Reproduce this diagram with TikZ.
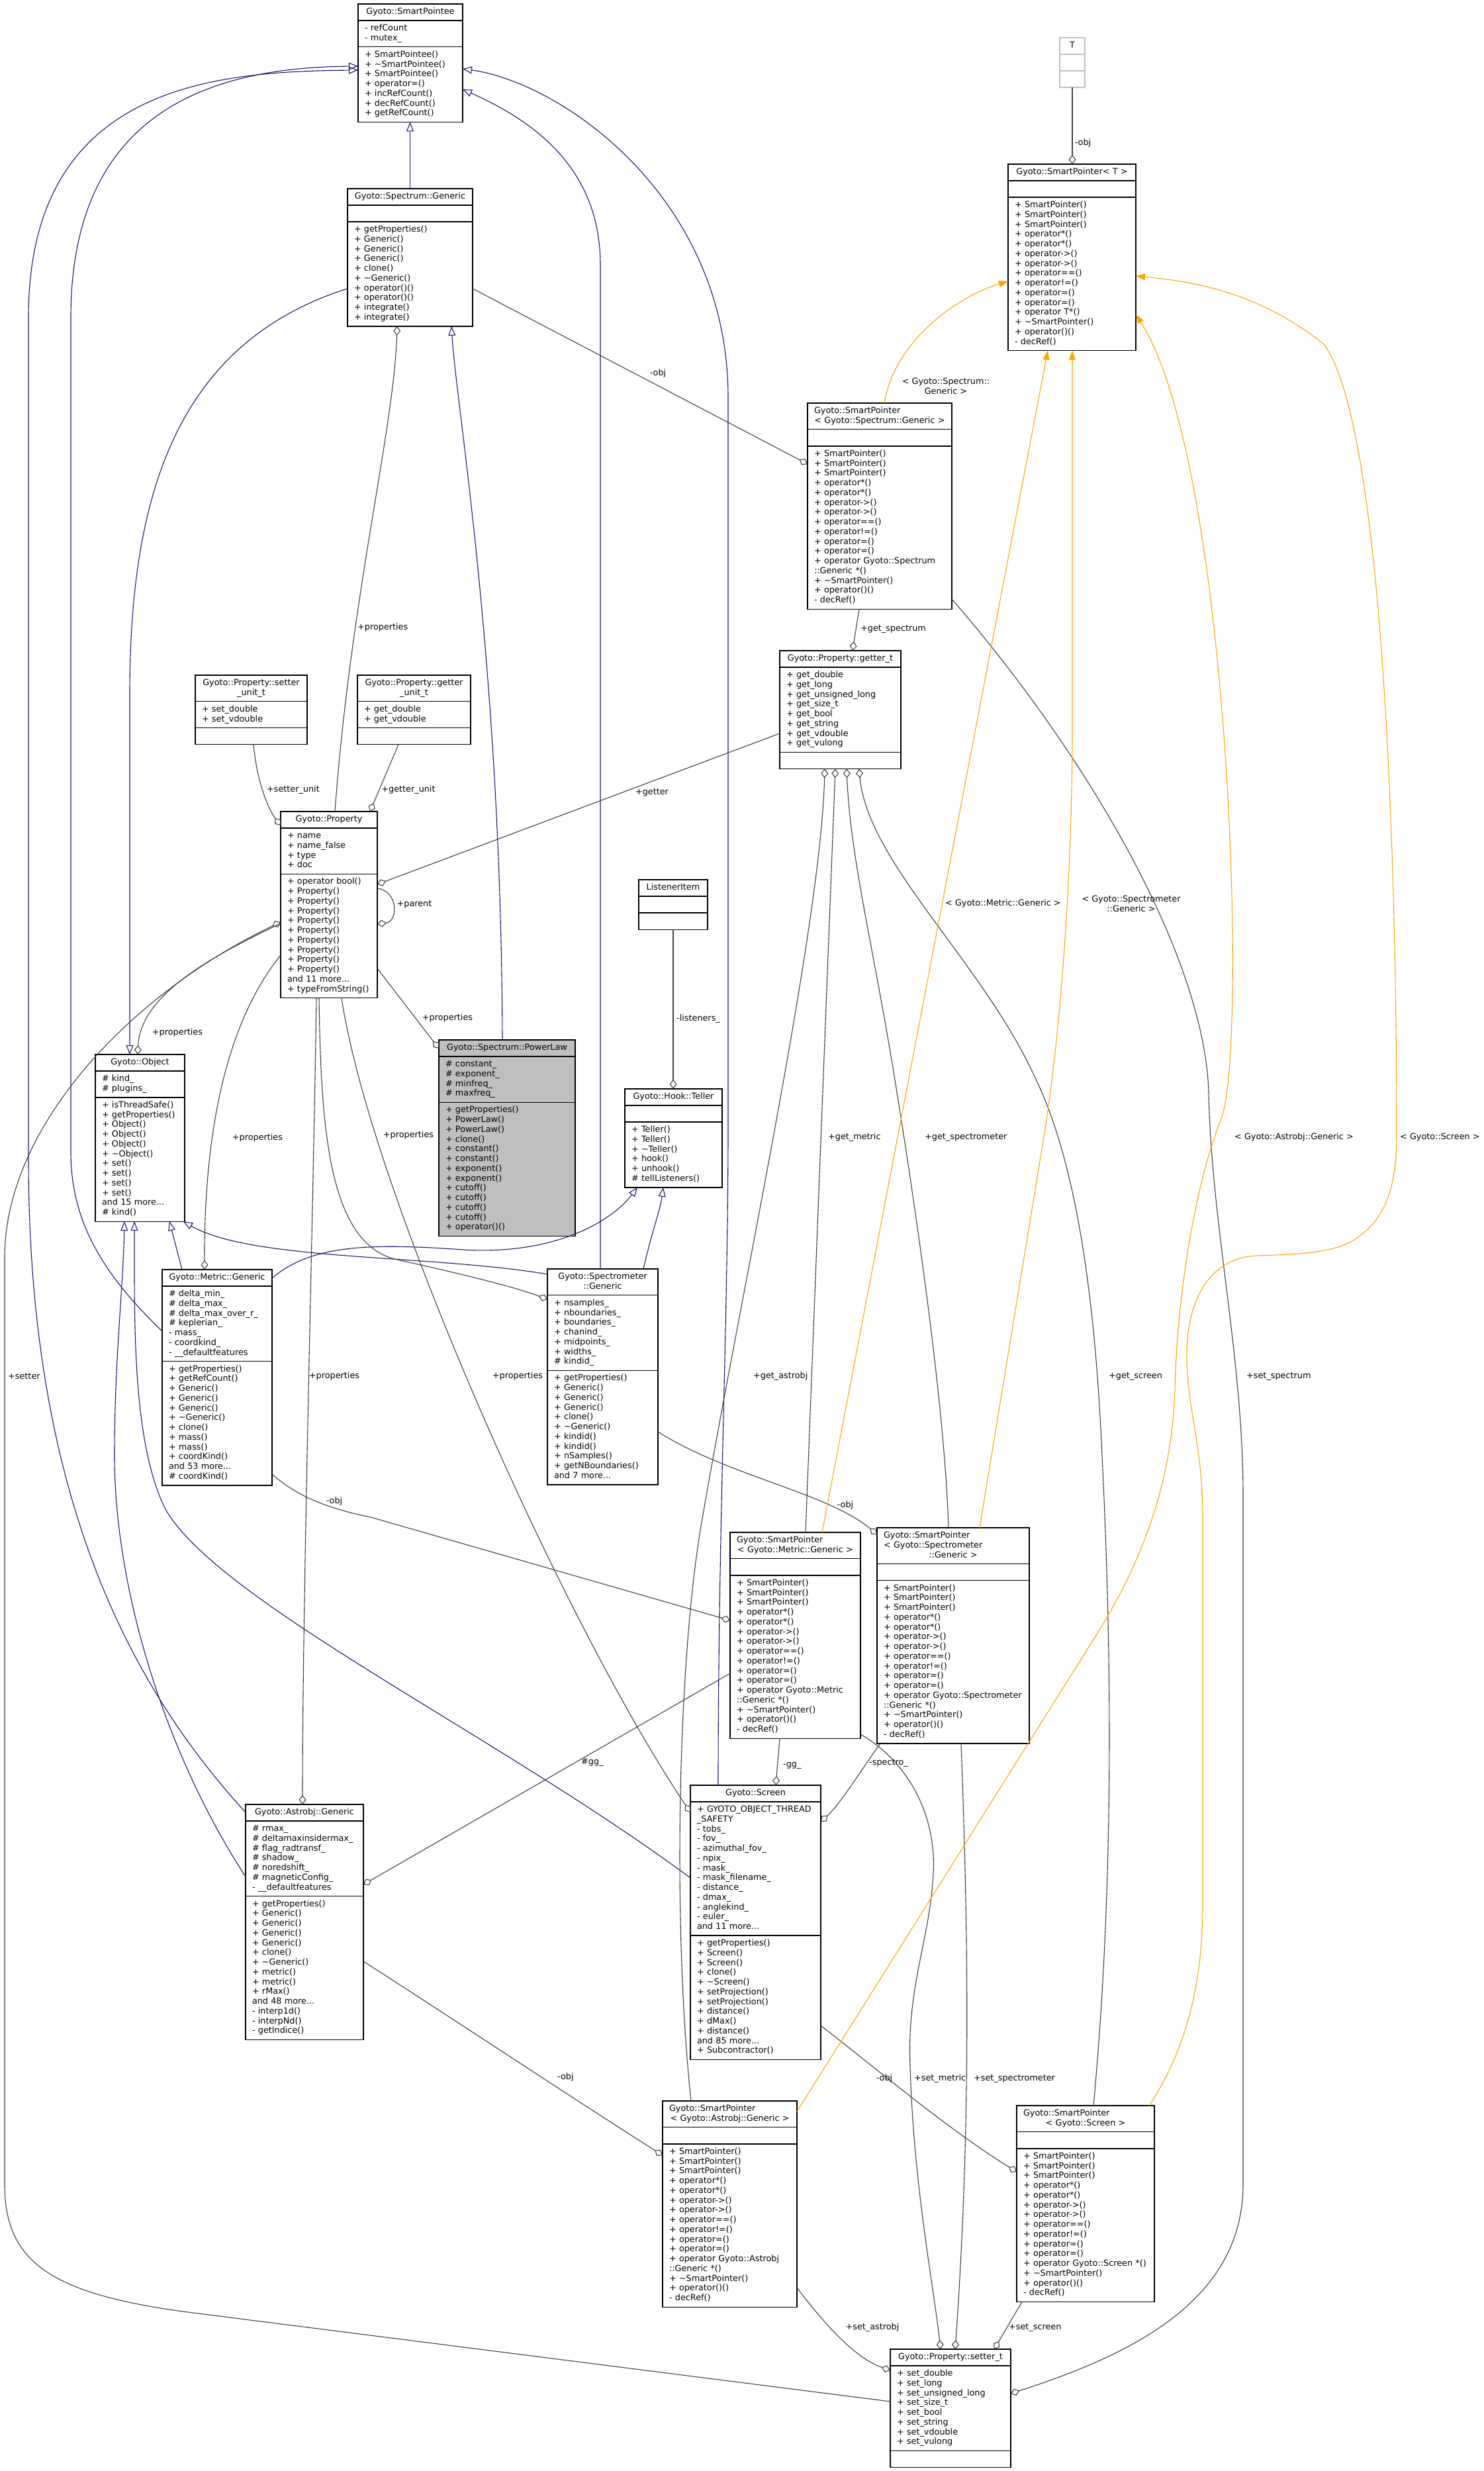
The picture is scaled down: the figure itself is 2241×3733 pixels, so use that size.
\documentclass[tikz,border=0pt]{standalone}
\usepackage{fontspec}
\setmainfont{DejaVu Sans}
\usetikzlibrary{arrows.meta,fit}
\definecolor{inhc}{HTML}{191970}
\definecolor{aggc}{HTML}{404040}
\definecolor{tplc}{HTML}{FFA500}
\definecolor{greyst}{HTML}{BFBFBF}
\newcommand\ufont{\fontsize{12.8pt}{14.75pt}\selectfont}
\newcommand\tld{\textasciitilde}
\newcommand\uclass[8][]{%
  \pgfmathsetmacro\ucw{#5-20}%
  \node[ubox,#1,text width=\ucw pt,align=center,anchor=north west] (#2-t) at (#3,#4) {\strut#6\strut};
  \node[ubox,#1,text width=\ucw pt,align=left,anchor=north west] (#2-a) at (#2-t.south west) {\strut#7\strut};
  \node[ubox,#1,text width=\ucw pt,align=left,anchor=north west] (#2-m) at (#2-a.south west) {\strut#8\strut};
  \node[fit=(#2-t)(#2-m),inner sep=0pt,outer sep=0pt] (#2) {};
}
\begin{document}
\begin{tikzpicture}[x=1pt,y=-1pt,
  ubox/.style={draw=black,fill=white,line width=1.3pt,inner xsep=10pt,inner ysep=5.15pt,outer sep=0pt,font=\ufont},
  inh/.style={draw=inhc,line width=1.1pt,-{Triangle[open,length=14pt,width=11pt]}},
  agg/.style={draw=aggc,line width=1.1pt,-{Diamond[open,length=14pt,width=11pt]}},
  tpl/.style={draw=tplc,line width=1.1pt,-{Triangle[length=14pt,width=10pt]}},
  elab/.style={font=\ufont,inner sep=0pt,align=center}]
\fill[white] (0,0) rectangle (2241,3733);
\useasboundingbox (0,0) rectangle (2241,3733);

% ---------------- classes ----------------
\uclass{SPE}{541}{6}{158}{Gyoto::SmartPointee}{- refCount\\- mutex\_}{+ SmartPointee()\\+ \tld SmartPointee()\\+ SmartPointee()\\+ operator=()\\+ incRefCount()\\+ decRefCount()\\+ getRefCount()}

\uclass{SG}{525}{285}{189}{Gyoto::Spectrum::Generic}{}{+ getProperties()\\+ Generic()\\+ Generic()\\+ Generic()\\+ clone()\\+ \tld Generic()\\+ operator()()\\+ operator()()\\+ integrate()\\+ integrate()}

\uclass[draw=greyst]{T}{1601}{57}{38}{T}{}{}

\uclass{SPT}{1523}{248}{193}{Gyoto::SmartPointer< T >}{}{+ SmartPointer()\\+ SmartPointer()\\+ SmartPointer()\\+ operator*()\\+ operator*()\\+ operator->()\\+ operator->()\\+ operator==()\\+ operator!=()\\+ operator=()\\+ operator=()\\+ operator T*()\\+ \tld SmartPointer()\\+ operator()()\\- decRef()}

\uclass{SPS}{1220}{609}{218}{\makebox[\linewidth][l]{Gyoto::SmartPointer}\\< Gyoto::Spectrum::Generic >}{}{+ SmartPointer()\\+ SmartPointer()\\+ SmartPointer()\\+ operator*()\\+ operator*()\\+ operator->()\\+ operator->()\\+ operator==()\\+ operator!=()\\+ operator=()\\+ operator=()\\+ operator Gyoto::Spectrum\\::Generic *()\\+ \tld SmartPointer()\\+ operator()()\\- decRef()}

\uclass{GT}{1178}{983}{183}{Gyoto::Property::getter\_t}{+ get\_double\\+ get\_long\\+ get\_unsigned\_long\\+ get\_size\_t\\+ get\_bool\\+ get\_string\\+ get\_vdouble\\+ get\_vulong}{}

\uclass{SU}{295}{1020}{169}{Gyoto::Property::setter\\\_unit\_t}{+ set\_double\\+ set\_vdouble}{}

\uclass{GU}{540}{1020}{171}{Gyoto::Property::getter\\\_unit\_t}{+ get\_double\\+ get\_vdouble}{}

\uclass{PR}{424}{1226}{146}{Gyoto::Property}{+ name\\+ name\_false\\+ type\\+ doc}{+ operator bool()\\+ Property()\\+ Property()\\+ Property()\\+ Property()\\+ Property()\\+ Property()\\+ Property()\\+ Property()\\+ Property()\\and 11 more...\\+ typeFromString()}

\uclass[fill=greyst]{PL}{663}{1571}{206}{Gyoto::Spectrum::PowerLaw}{\# constant\_\\\# exponent\_\\\# minfreq\_\\\# maxfreq\_}{+ getProperties()\\+ PowerLaw()\\+ PowerLaw()\\+ clone()\\+ constant()\\+ constant()\\+ exponent()\\+ exponent()\\+ cutoff()\\+ cutoff()\\+ cutoff()\\+ cutoff()\\+ operator()()}

\uclass{LI}{965}{1329}{104}{ListenerItem}{}{}

\uclass{HT}{944}{1645}{147}{Gyoto::Hook::Teller}{}{+ Teller()\\+ Teller()\\+ \tld Teller()\\+ hook()\\+ unhook()\\\# tellListeners()}

\uclass{OB}{144}{1593}{135}{Gyoto::Object}{\# kind\_\\\# plugins\_}{+ isThreadSafe()\\+ getProperties()\\+ Object()\\+ Object()\\+ Object()\\+ \tld Object()\\+ set()\\+ set()\\+ set()\\+ set()\\and 15 more...\\\# kind()}

\uclass{MG}{245}{1918}{166}{Gyoto::Metric::Generic}{\# delta\_min\_\\\# delta\_max\_\\\# delta\_max\_over\_r\_\\\# keplerian\_\\- mass\_\\- coordkind\_\\- \_\_defaultfeatures}{+ getProperties()\\+ getRefCount()\\+ Generic()\\+ Generic()\\+ Generic()\\+ \tld Generic()\\+ clone()\\+ mass()\\+ mass()\\+ coordKind()\\and 53 more...\\\# coordKind()}

\uclass{SMG}{827}{1917}{167}{Gyoto::Spectrometer\\::Generic}{+ nsamples\_\\+ nboundaries\_\\+ boundaries\_\\+ chanind\_\\+ midpoints\_\\+ widths\_\\\# kindid\_}{+ getProperties()\\+ Generic()\\+ Generic()\\+ Generic()\\+ clone()\\+ \tld Generic()\\+ kindid()\\+ kindid()\\+ nSamples()\\+ getNBoundaries()\\and 7 more...}

\uclass{SPM}{1103}{2315}{197}{\makebox[\linewidth][l]{Gyoto::SmartPointer}\\< Gyoto::Metric::Generic >}{}{+ SmartPointer()\\+ SmartPointer()\\+ SmartPointer()\\+ operator*()\\+ operator*()\\+ operator->()\\+ operator->()\\+ operator==()\\+ operator!=()\\+ operator=()\\+ operator=()\\+ operator Gyoto::Metric\\::Generic *()\\+ \tld SmartPointer()\\+ operator()()\\- decRef()}

\uclass{SPSM}{1325}{2308}{230}{\makebox[\linewidth][l]{Gyoto::SmartPointer}\\\makebox[\linewidth][l]{< Gyoto::Spectrometer}\\::Generic >}{}{+ SmartPointer()\\+ SmartPointer()\\+ SmartPointer()\\+ operator*()\\+ operator*()\\+ operator->()\\+ operator->()\\+ operator==()\\+ operator!=()\\+ operator=()\\+ operator=()\\+ operator Gyoto::Spectrometer\\::Generic *()\\+ \tld SmartPointer()\\+ operator()()\\- decRef()}

\uclass{SC}{1043}{2697}{197}{Gyoto::Screen}{+ GYOTO\_OBJECT\_THREAD\\\_SAFETY\\- tobs\_\\- fov\_\\- azimuthal\_fov\_\\- npix\_\\- mask\_\\- mask\_filename\_\\- distance\_\\- dmax\_\\- anglekind\_\\- euler\_\\and 11 more...}{+ getProperties()\\+ Screen()\\+ Screen()\\+ clone()\\+ \tld Screen()\\+ setProjection()\\+ setProjection()\\+ distance()\\+ dMax()\\+ distance()\\and 85 more...\\+ Subcontractor()}

\uclass{AG}{371}{2726}{178}{Gyoto::Astrobj::Generic}{\# rmax\_\\\# deltamaxinsidermax\_\\\# flag\_radtransf\_\\\# shadow\_\\\# noredshift\_\\\# magneticConfig\_\\- \_\_defaultfeatures}{+ getProperties()\\+ Generic()\\+ Generic()\\+ Generic()\\+ Generic()\\+ clone()\\+ \tld Generic()\\+ metric()\\+ metric()\\+ rMax()\\and 48 more...\\- interp1d()\\- interpNd()\\- getIndice()}

\uclass{SPA}{1001}{3174}{203}{\makebox[\linewidth][l]{Gyoto::SmartPointer}\\< Gyoto::Astrobj::Generic >}{}{+ SmartPointer()\\+ SmartPointer()\\+ SmartPointer()\\+ operator*()\\+ operator*()\\+ operator->()\\+ operator->()\\+ operator==()\\+ operator!=()\\+ operator=()\\+ operator=()\\+ operator Gyoto::Astrobj\\::Generic *()\\+ \tld SmartPointer()\\+ operator()()\\- decRef()}

\uclass{SPSC}{1536}{3181}{208}{\makebox[\linewidth][l]{Gyoto::SmartPointer}\\< Gyoto::Screen >}{}{+ SmartPointer()\\+ SmartPointer()\\+ SmartPointer()\\+ operator*()\\+ operator*()\\+ operator->()\\+ operator->()\\+ operator==()\\+ operator!=()\\+ operator=()\\+ operator=()\\+ operator Gyoto::Screen *()\\+ \tld SmartPointer()\\+ operator()()\\- decRef()}

\uclass{ST}{1345}{3549}{182}{Gyoto::Property::setter\_t}{+ set\_double\\+ set\_long\\+ set\_unsigned\_long\\+ set\_size\_t\\+ set\_bool\\+ set\_string\\+ set\_vdouble\\+ set\_vulong}{}

% ---------------- inheritance ----------------
\draw[inh] (SG.north) -- (SG.north |- SPE.south);
\draw[inh] (PL.north -| 759,0) .. controls (757,1000) and (690,620) .. (SG.south -| 682,0);
\draw[inh] (SG.west |- 0,436) .. controls (260,520) and (196,760) .. (196,1050) -- (OB.north -| 196,0);
\draw[inh] (MG.west |- 0,2011) .. controls (150,1920) and (107,1840) .. (107,1740) -- (107,480) .. controls (107,160) and (330,102) .. (SPE.west |- 0,100);
\draw[inh] (AG.west |- 0,2738) .. controls (190,2540) and (43,2250) .. (43,1750) -- (43,480) .. controls (43,130) and (320,108) .. (SPE.west |- 0,106);
\draw[inh] (MG.north -| 275,0) -- (OB.south -| 256,0);
\draw[inh] (AG.west |- 0,2835) .. controls (250,2650) and (173,2400) .. (173,2200) .. controls (173,2050) and (186,1950) .. (OB.south -| 188,0);
\draw[inh] (SC.west |- 0,2837) .. controls (750,2620) and (330,2420) .. (250,2280) .. controls (200,2180) and (203,2000) .. (OB.south -| 203,0);
\draw[inh] (SMG.west |- 0,1925) .. controls (650,1895) and (380,1905) .. (OB.south -| 277,0);
\draw[inh] (MG.east |- 0,1931) .. controls (470,1880) and (560,1878) .. (700,1888) .. controls (830,1896) and (920,1850) .. (HT.south -| 963,0);
\draw[inh] (SMG.north -| 972,0) .. controls (985,1860) and (997,1830) .. (HT.south -| 1002,0);
\draw[inh] (SMG.north -| 907,0) -- (907,400) .. controls (907,250) and (800,180) .. (SPE.east |- 0,135);
\draw[inh] (SC.north -| 1085,0) .. controls (1085,2300) and (1100,2000) .. (1100,1700) -- (1100,600) .. controls (1100,300) and (850,125) .. (SPE.east |- 0,104);

% ---------------- usage (aggregation) ----------------
\draw[agg] (T.south) -- (SPT.north -| T.south);
\draw[agg] (SG.east |- 0,436) -- (SPS.west |- 0,701);
\draw[agg] (SPS.south -| 1298,0) -- (GT.north -| 1288,0);
\draw[agg] (SU.south -| 383,0) .. controls (388,1180) and (405,1222) .. (PR.west |- 0,1247);
\draw[agg] (GU.south -| 602,0) -- (PR.north -| 559,0);
\draw[agg] (GT.west |- 0,1108) -- (PR.east |- 0,1336);
\draw[agg] (PR.east |- 0,1342) .. controls (602,1346) and (602,1392) .. (PR.east |- 0,1396);
\draw[agg] (ST.west |- 0,3628) -- (300,3495) .. controls (80,3468) and (7,3420) .. (7,3300) -- (7,1900) .. controls (7,1700) and (200,1500) .. (PR.west |- 0,1393);
\draw[agg] (PR.north -| 506,0) .. controls (530,900) and (595,650) .. (SG.south -| 600,0);
\draw[agg] (PR.west |- 0,1395) .. controls (330,1440) and (212,1500) .. (OB.north -| 208,0);
\draw[agg] (PR.west |- 0,1443) .. controls (370,1510) and (308,1640) .. (MG.north -| 309,0);
\draw[agg] (PR.east |- 0,1463) -- (PL.west |- 0,1584);
\draw[agg] (PR.south -| 482,0) .. controls (485,1700) and (495,1880) .. (600,1903) .. controls (700,1925) and (780,1945) .. (SMG.west |- 0,1963);
\draw[agg] (PR.south -| 478,0) .. controls (474,1800) and (457,2400) .. (AG.north -| 457,0);
\draw[agg] (PR.south -| 516,0) .. controls (560,1800) and (850,2450) .. (SC.west |- 0,2738);
\draw[agg] (LI.south) -- (HT.north -| LI.south);
\draw[agg] (MG.east |- 0,2227) .. controls (450,2262) and (500,2280) .. (560,2292) -- (SPM.west |- 0,2448);
\draw[agg] (SMG.east |- 0,2163) .. controls (1100,2230) and (1250,2255) .. (SPSM.west |- 0,2318);
\draw[agg] (SPM.south -| 1178,0) -- (SC.north -| 1172,0);
\draw[agg] (SPSM.south -| 1330,0) .. controls (1300,2675) and (1270,2725) .. (SC.east |- 0,2752);
\draw[agg] (SPM.west |- 0,2528) -- (AG.east |- 0,2847);
\draw[agg] (AG.east |- 0,2963) .. controls (700,3060) and (850,3160) .. (SPA.west |- 0,3256);
\draw[agg] (SC.east |- 0,3060) .. controls (1330,3130) and (1430,3215) .. (SPSC.west |- 0,3281);
\draw[agg] (SPA.east |- 0,3456) .. controls (1260,3530) and (1300,3565) .. (ST.west |- 0,3581);
\draw[agg] (SPM.east |- 0,2620) .. controls (1370,2660) and (1415,2740) .. (1410,2830) .. controls (1405,2930) and (1370,3000) .. (1375,3120) .. controls (1380,3300) and (1410,3450) .. (ST.north -| 1421,0);
\draw[agg] (SPSM.south -| 1452,0) .. controls (1462,2900) and (1468,3200) .. (ST.north -| 1443,0);
\draw[agg] (SPSC.south -| 1544,0) -- (ST.north -| 1502,0);
\draw[agg] (SPS.east |- 0,905) .. controls (1650,1150) and (1820,1450) .. (1826,1650) .. controls (1830,1850) and (1878,2050) .. (1878,2260) -- (1878,3300) .. controls (1878,3480) and (1700,3560) .. (ST.east |- 0,3616);
\draw[agg] (SPA.north -| 1044,0) .. controls (1015,2900) and (1025,2500) .. (1060,2300) .. controls (1120,1950) and (1240,1400) .. (GT.south -| 1246,0);
\draw[agg] (SPM.north -| 1217,0) -- (GT.south -| 1262,0);
\draw[agg] (SPSM.north -| 1433,0) .. controls (1428,2150) and (1395,1900) .. (1355,1650) .. controls (1320,1430) and (1285,1300) .. (GT.south -| 1279,0);
\draw[agg] (SPSC.north -| 1652,0) .. controls (1683,2850) and (1680,2500) .. (1665,2200) .. controls (1650,1850) and (1600,1700) .. (1560,1620) .. controls (1480,1450) and (1310,1300) .. (GT.south -| 1298,0);

% ---------------- template instances ----------------
\draw[tpl] (SPS.north -| 1336,0) .. controls (1350,520) and (1440,450) .. (SPT.west |- 0,425);
\draw[tpl] (SPM.north -| 1242,0) -- (SPT.south -| 1583,0);
\draw[tpl] (SPSM.north -| 1480,0) -- (1575,1730) .. controls (1605,1550) and (1620,1300) .. (1620,1100) -- (SPT.south -| 1620,0);
\draw[tpl] (SPA.east |- 0,3190) -- (1650,2480) .. controls (1720,2370) and (1770,2250) .. (1775,2100) .. controls (1778,1960) and (1805,1790) .. (1845,1690) .. controls (1885,1590) and (1860,700) .. (SPT.east |- 0,475);
\draw[tpl] (SPSC.north -| 1736,0) .. controls (1790,3100) and (1817,3000) .. (1817,2880) -- (1817,2290) .. controls (1817,2180) and (1791,2120) .. (1793,2040) .. controls (1795,1960) and (1830,1899) .. (1900,1897) .. controls (1960,1895) and (2020,1893) .. (2050,1870) .. controls (2095,1840) and (2110,1790) .. (2110,1713) .. controls (2110,1300) and (2090,640) .. (2000,520) .. controls (1900,440) and (1800,425) .. (SPT.east |- 0,417);

% ---------------- edge labels ----------------
\node[elab] (lb1) at (1636,216) {-obj};
\node[elab,anchor=west] (lb2) at (1300,951) {+get\_spectrum};
\node[elab] (lb3) at (994,564) {-obj};
\node[elab] (lb4) at (1429,583) {< Gyoto::Spectrum::\\Generic >};
\node[elab] (lb5) at (443,1193) {+setter\_unit};
\node[elab] (lb6) at (617,1193) {+getter\_unit};
\node[elab] (lb7) at (985,1197) {+getter};
\node[elab] (lb8) at (626,1366) {+parent};
\node[elab,anchor=west] (lb9) at (540,948) {+properties};
\node[elab] (lb10) at (268,1560) {+properties};
\node[elab] (lb11) at (389,1719) {+properties};
\node[elab] (lb12) at (676,1538) {+properties};
\node[elab] (lb13) at (617,1715) {+properties};
\node[elab] (lb14) at (505,2079) {+properties};
\node[elab] (lb15) at (782,2079) {+properties};
\node[elab,anchor=west] (lb16) at (12,2079) {+setter};
\node[elab,anchor=west] (lb17) at (1022,1539) {-listeners\_};
\node[elab] (lb18) at (505,2268) {-obj};
\node[elab] (lb19) at (1277,2274) {-obj};
\node[elab,anchor=west] (lb20) at (1183,2667) {-gg\_};
\node[elab,anchor=west] (lb21) at (1313,2663) {-spectro\_};
\node[elab,anchor=west] (lb22) at (878,2662) {\#gg\_};
\node[elab,anchor=west] (lb23) at (842,3138) {-obj};
\node[elab] (lb24) at (1336,3140) {-obj};
\node[elab] (lb25) at (1318,3516) {+set\_astrobj};
\node[elab,anchor=west] (lb26) at (1381,3140) {+set\_metric};
\node[elab,anchor=west] (lb27) at (1471,3140) {+set\_spectrometer};
\node[elab,anchor=west] (lb28) at (1524,3516) {+set\_screen};
\node[elab,anchor=west] (lb29) at (1883,2079) {+set\_spectrum};
\node[elab,anchor=west] (lb30) at (1138,2079) {+get\_astrobj};
\node[elab,anchor=west] (lb31) at (1251,1718) {+get\_metric};
\node[elab,anchor=west] (lb32) at (1397,1718) {+get\_spectrometer};
\node[elab,anchor=west] (lb33) at (1675,2079) {+get\_screen};
\node[elab,anchor=west] (lb34) at (1428,1365) {< Gyoto::Metric::Generic >};
\node[elab] (lb35) at (1709,1365) {< Gyoto::Spectrometer\\::Generic >};
\node[elab,anchor=west] (lb36) at (1865,1718) {< Gyoto::Astrobj::Generic >};
\node[elab,anchor=west] (lb37) at (2115,1718) {< Gyoto::Screen >};
\end{tikzpicture}
\end{document}
